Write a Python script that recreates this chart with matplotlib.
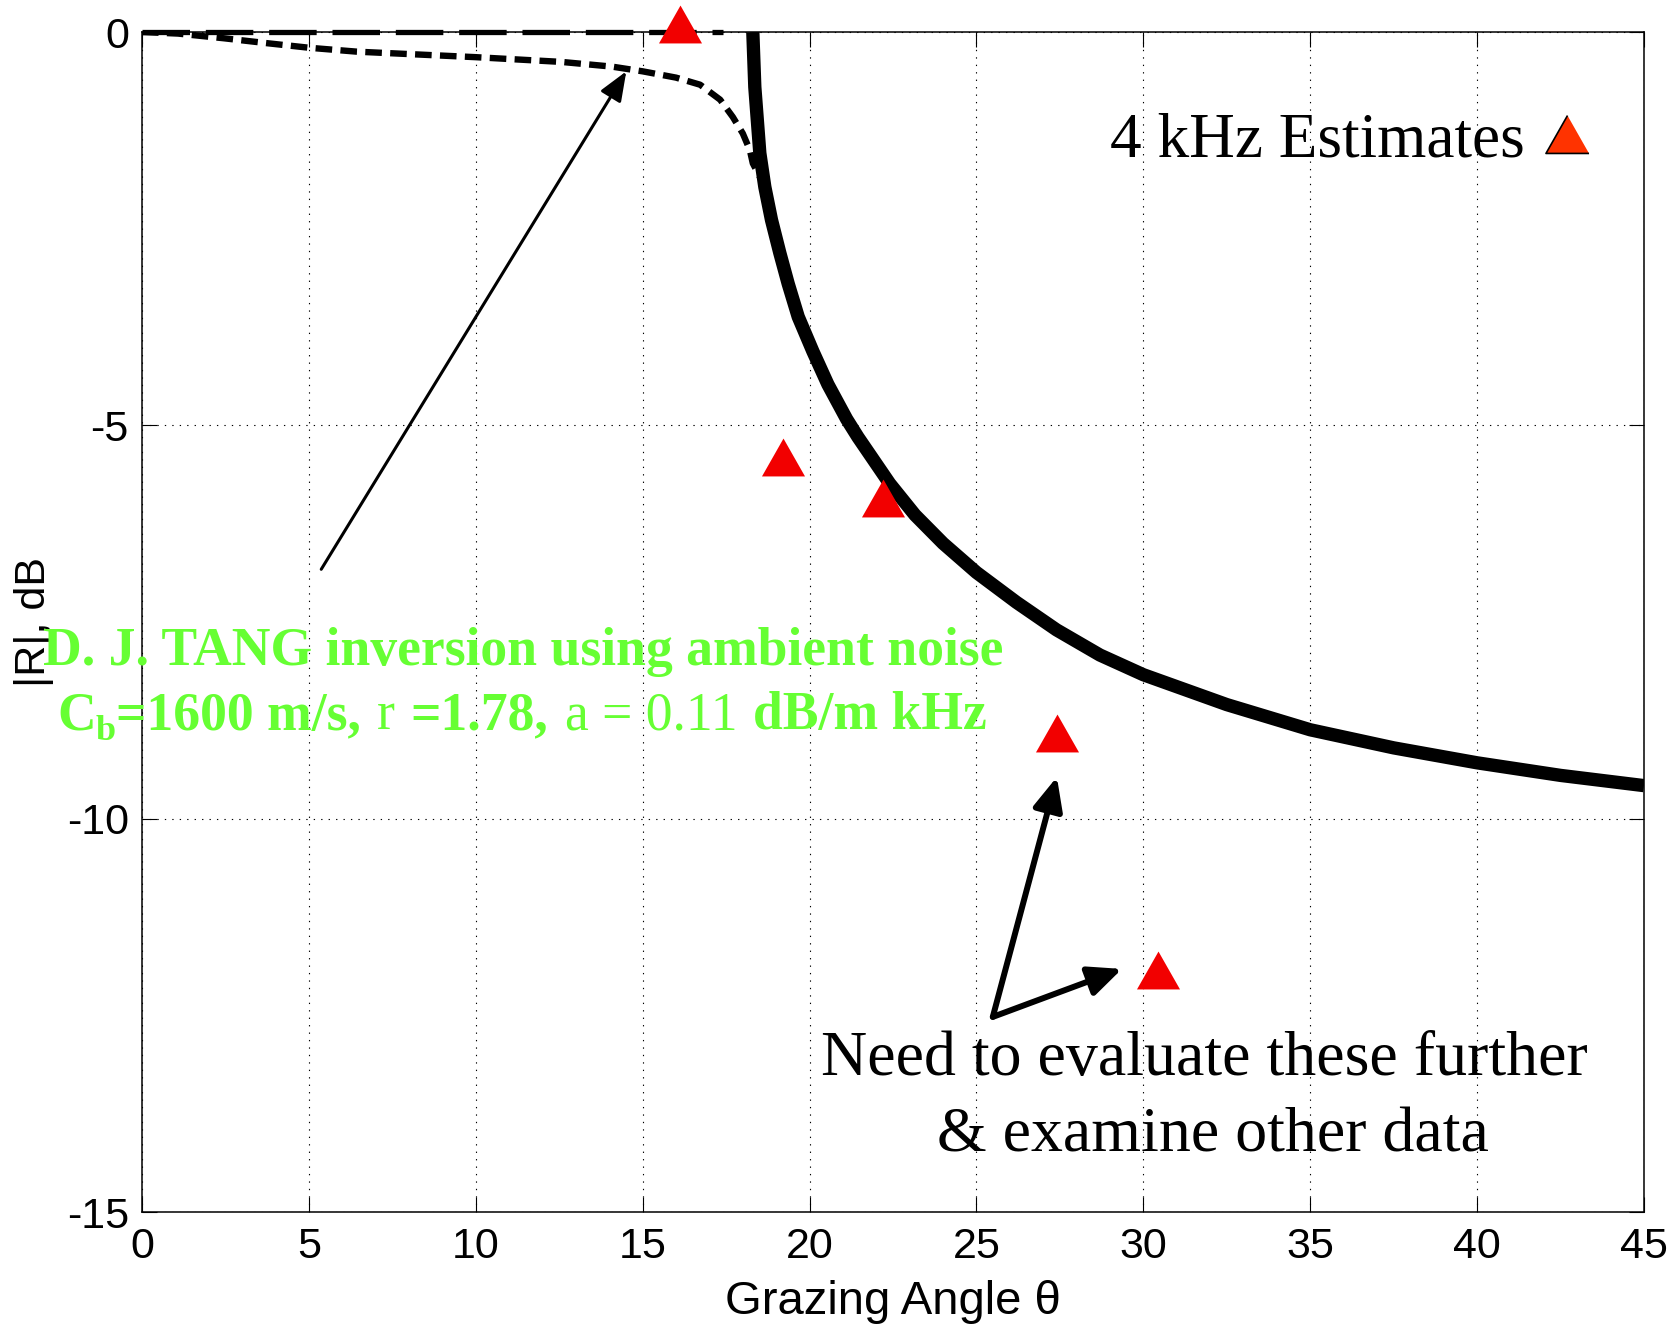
import matplotlib
matplotlib.use('Agg')
import matplotlib.pyplot as plt
from matplotlib.lines import Line2D

plt.rcParams['axes.unicode_minus'] = False
plt.rcParams['font.family'] = ['Liberation Sans', 'DejaVu Sans']

W, H = 1674, 1328

# ---------------- data ----------------
# lossless curve (thick solid) above critical angle
angle_solid = [18.30, 18.36, 18.51, 18.66, 18.86, 19.11, 19.36, 19.66, 20.10, 20.55,
               21.11, 21.45, 22.40, 23.16, 24.0, 25.0, 26.2, 27.4, 28.7, 30.0, 32.5,
               35.0, 37.5, 40.0, 42.5, 45.0]
db_solid = [0.0, -0.70, -1.54, -1.97, -2.39, -2.81, -3.20, -3.62, -4.06, -4.48,
            -4.92, -5.15, -5.74, -6.14, -6.50, -6.87, -7.25, -7.60, -7.92, -8.17, -8.55,
            -8.87, -9.10, -9.29, -9.45, -9.58]
# total reflection (long dash) below critical angle
angle_flat = [0.0, 17.4]
db_flat = [0.0, 0.0]
# lossy curve (short dashes)
angle_lossy = [0.0, 1.08, 2.46, 3.7, 5.0, 6.44, 7.97, 10.0, 12.56, 14.08, 15.0, 16.0,
               16.72, 17.32, 17.7, 18.0, 18.21, 18.30, 18.51, 18.66]
db_lossy = [0.0, -0.02, -0.08, -0.14, -0.20, -0.25, -0.28, -0.32, -0.38, -0.44, -0.50, -0.58,
            -0.67, -0.86, -1.08, -1.29, -1.50, -1.67, -1.84, -1.97]
# 4 kHz estimates
est_angle = [16.12, 19.2, 22.2, 27.41, 30.44]
est_db = [0.1, -5.40, -5.92, -8.91, -11.92]

xticks = [0, 5, 10, 15, 20, 25, 30, 35, 40, 45]
yticks = [0, -5, -10, -15]
xlabel = 'Grazing Angle θ'
ylabel = '|R|, dB'
legend_label = '4 kHz Estimates'
note_lines = ['Need to evaluate these further', '& examine other data']

# ---------------- figure ----------------
fig = plt.figure(figsize=(W / 100, H / 100), dpi=100)
ax = fig.add_axes([142 / W, 1 - 1212 / H, 1502 / W, 1180 / H])
ax.set_xlim(0, 45)
ax.set_ylim(-15, 0)

ax.grid(True, color='black', linestyle=(0, (1.2, 5.5)), linewidth=0.8)
ax.set_axisbelow(True)

tri = [(0, 0.88), (-1, -0.88), (1, -0.88)]

ax.plot(angle_flat, db_flat, color='black', lw=3.8, linestyle=(0, (9, 3)),
        clip_on=False, zorder=3)
ax.plot(angle_lossy, db_lossy, color='black', lw=4.6, linestyle=(0, (2.6, 1.3)), zorder=3)
ax.plot(angle_solid, db_solid, color='black', lw=9.6, solid_joinstyle='round',
        solid_capstyle='butt', zorder=3)
ax.plot(est_angle, est_db, linestyle='none', marker=tri, ms=31, mfc='#F20000',
        mec='#F20000', mew=0, clip_on=False, zorder=4)

ax.set_xticks(xticks)
ax.set_yticks(yticks)
ax.set_xticklabels([str(v) for v in xticks], fontsize=31)
ax.set_yticklabels([str(v) for v in yticks], fontsize=31)
ax.tick_params(direction='in', length=10.8, width=0.8, top=True, right=True)
ax.tick_params(axis='x', pad=10.5)
ax.tick_params(axis='y', pad=9.5)
for s in ax.spines.values():
    s.set_linewidth(1.1)

ax.set_xlabel(xlabel, fontsize=34, labelpad=10)
ax.set_ylabel(ylabel, fontsize=31, labelpad=9)

# legend
h = Line2D([], [], linestyle='none', marker=tri, ms=31, mfc='#FF3300', mec='black', mew=1.2)
ax.legend(handles=[h], labels=[legend_label], markerfirst=False, frameon=False,
          prop=dict(family='Liberation Serif', size=45.5), handlelength=1.0,
          handletextpad=0.17, borderpad=0, borderaxespad=0, loc='center left',
          bbox_to_anchor=(1110 / W, 1187 / H), bbox_transform=fig.transFigure)

# arrows
ax.annotate('', xy=(14.51, -0.50), xytext=(5.37, -6.83),
            arrowprops=dict(arrowstyle='-|>,head_length=0.4,head_width=0.16',
                            mutation_scale=45, lw=2.2, color='black',
                            shrinkA=0, shrinkB=0), zorder=5)
for tip in [(27.41, -9.47), (29.36, -11.91)]:
    ax.annotate('', xy=tip, xytext=(25.49, -12.52),
                arrowprops=dict(arrowstyle='-|>,head_length=0.4,head_width=0.18',
                                mutation_scale=50, lw=4.3, color='black',
                                shrinkA=0, shrinkB=0), zorder=5)

# note text
fig.text(1204 / W, (H - 1075) / H, note_lines[0], family='Liberation Serif',
         fontsize=46, ha='center', va='baseline')
fig.text(1213 / W, (H - 1152) / H, note_lines[1], family='Liberation Serif',
         fontsize=46, ha='center', va='baseline')

# green annotation (sequential pieces)
green = '#66FF33'
renderer = fig.canvas.get_renderer()
fig.text(43 / W, (H - 665) / H, 'D. J. TANG inversion using ambient noise',
         family='Liberation Serif', weight='bold', fontsize=38.6, color=green,
         ha='left', va='baseline', zorder=10)

pieces = [
    ('C', 'bold', 38.6, 0, 0.0),
    ('b', 'bold', 26, -11, 0.0),
    ('=1600 m/s,', 'bold', 38.6, 0, 0.3),
    ('r', 'normal', 38.6, 0, 0.3),
    ('=1.78,', 'bold', 38.6, 0, 0.3),
    ('a = 0.11', 'normal', 38.6, 0, 0.3),
    ('dB/m kHz', 'bold', 38.6, 0, 0.0),
]
x = 57.0
base = H - 729
for s, wgt, fs, dy, gap in pieces:
    t = fig.text(x / W, (base + dy) / H, s, family='Liberation Serif', weight=wgt,
                 fontsize=fs, color=green, ha='left', va='baseline', zorder=10)
    bb = t.get_window_extent(renderer)
    x = bb.x1 + gap * fs * 100 / 72

fig.savefig('out.png', dpi=100)
